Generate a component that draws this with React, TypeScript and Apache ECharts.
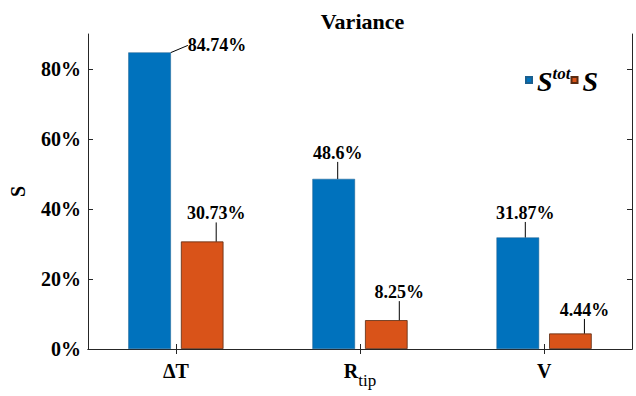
import React, { useEffect, useRef } from "react";
import * as echarts from "echarts";

const categories = ["ΔT", "R_tip", "V"];
const categoryPositions = [1, 2, 3];
const totalValues = [84.74, 48.6, 31.87];
const firstOrderValues = [30.73, 8.25, 4.44];
const yTicks = [0, 20, 40, 60, 80];
const seriesNames = ["Stot", "S"];

// label offsets (dx, dy) in pixels relative to default top position
const labelOffsetsTot = [[67.5, 2], [4, -17], [7.5, -15.5]];
const labelOffsetsFirst = [[14, -19], [13, -19], [14, -14.5]];

const FONT = "'Liberation Serif', 'Times New Roman', serif";
const AXIS_COLOR = "#262626";

export default function App() {
  const ref = useRef<HTMLDivElement>(null);
  useEffect(() => {
    if (!ref.current) return;
    const chart = echarts.init(ref.current, null, { renderer: "svg" });
    const xMin = 0.5226;
    const xMax = 3.4774;
    const labelCommon = {
      show: true,
      position: "top",
      distance: 0,
      fontFamily: FONT,
      fontWeight: "bold",
      fontSize: 18,
      lineHeight: 18,
      color: "#000",
      formatter: (p: any) => `${p.value[1]}%`,
    };
    const option: any = {
      animation: false,
      backgroundColor: "#fff",
      title: {
        text: "Variance",
        left: 357.5,
        textAlign: "center",
        top: 5,
        textStyle: { fontFamily: FONT, fontWeight: "bold", fontSize: 22, color: "#000" },
      },
      legend: {
        left: 520,
        top: 60,
        itemWidth: 6,
        itemHeight: 6,
        itemGap: 0,
        icon: "rect",
        data: seriesNames,
        formatter: (name: string) => (name === "Stot" ? "{s|S}{sup|tot}" : "{s|S}"),
        textStyle: {
          rich: {
            s: { fontFamily: FONT, fontStyle: "italic", fontWeight: "bold", fontSize: 28, color: "#000", lineHeight: 30, verticalAlign: "bottom" },
            sup: { fontFamily: FONT, fontStyle: "italic", fontWeight: "bold", fontSize: 17, color: "#000", lineHeight: 30, verticalAlign: "top", padding: [0, 0, 12, 0] },
          },
        },
      },
      grid: { left: 83, right: 4, top: 34, bottom: 47, containLabel: false },
      xAxis: [
        {
          type: "value",
          min: xMin,
          max: xMax,
          position: "bottom",
          splitLine: { show: false },
          axisLine: { show: true, lineStyle: { color: AXIS_COLOR, width: 1 } },
          axisTick: { show: true, inside: true, length: 5, customValues: categoryPositions, lineStyle: { color: AXIS_COLOR } },
          axisLabel: {
            show: true,
            customValues: categoryPositions,
            margin: 12,
            formatter: (v: number) => {
              const c = categories[Math.round(v) - 1];
              if (c === "R_tip") return "{b|R}{sub|tip}";
              return `{b|${c}}`;
            },
            rich: {
              b: { fontFamily: FONT, fontWeight: "bold", fontSize: 20, color: "#000", lineHeight: 22, verticalAlign: "top" },
              sub: { fontFamily: FONT, fontWeight: "normal", fontSize: 17, color: "#000", lineHeight: 18, verticalAlign: "top", padding: [11, 0, 0, 0] },
            },
          },
        },
        {
          type: "value",
          min: xMin,
          max: xMax,
          position: "top",
          splitLine: { show: false },
          axisLine: { show: true, lineStyle: { color: AXIS_COLOR, width: 1 } },
          axisTick: { show: true, inside: true, length: 5, customValues: categoryPositions, lineStyle: { color: AXIS_COLOR } },
          axisLabel: { show: false },
        },
      ],
      yAxis: [
        {
          type: "value",
          min: 0,
          max: 90,
          position: "left",
          name: "S",
          nameLocation: "middle",
          nameGap: 60,
          nameTextStyle: { fontFamily: FONT, fontWeight: "bold", fontSize: 20, color: "#000" },
          splitLine: { show: false },
          axisLine: { show: true, lineStyle: { color: AXIS_COLOR, width: 1 } },
          axisTick: { show: true, inside: true, length: 5, customValues: yTicks, lineStyle: { color: AXIS_COLOR } },
          axisLabel: {
            customValues: yTicks,
            margin: 7,
            formatter: "{value}%",
            fontFamily: FONT,
            fontWeight: "bold",
            fontSize: 20,
            color: "#000",
          },
        },
        {
          type: "value",
          min: 0,
          max: 90,
          position: "right",
          splitLine: { show: false },
          axisLine: { show: true, lineStyle: { color: AXIS_COLOR, width: 1 } },
          axisTick: { show: true, inside: true, length: 5, customValues: yTicks, lineStyle: { color: AXIS_COLOR } },
          axisLabel: { show: false },
        },
      ],
      series: [
        {
          name: seriesNames[0],
          type: "bar",
          xAxisIndex: 0,
          yAxisIndex: 0,
          barWidth: 42.6,
          barGap: "23.5%",
          data: categoryPositions.map((x, i) => [x, totalValues[i]]),
          itemStyle: { color: "#0072BD", borderColor: "#1a5f8f", borderWidth: 0.5 },
          label: labelCommon,
          labelLine: { show: true, lineStyle: { color: "#000", width: 1 } },
          labelLayout: (p: any) => ({ dx: labelOffsetsTot[p.dataIndex][0], dy: labelOffsetsTot[p.dataIndex][1] }),
        },
        {
          name: seriesNames[1],
          type: "bar",
          xAxisIndex: 0,
          yAxisIndex: 0,
          barWidth: 42.6,
          barGap: "23.5%",
          data: categoryPositions.map((x, i) => [x, firstOrderValues[i]]),
          itemStyle: { color: "#D95319", borderColor: "#5a2a10", borderWidth: 0.8 },
          label: labelCommon,
          labelLine: { show: true, lineStyle: { color: "#000", width: 1 } },
          labelLayout: (p: any) => ({ dx: labelOffsetsFirst[p.dataIndex][0], dy: labelOffsetsFirst[p.dataIndex][1] }),
        },
      ],
    };
    chart.setOption(option);
    return () => chart.dispose();
  }, []);
  return <div ref={ref} style={{ width: 636, height: 396, position: "absolute", left: 0, top: 0 }} />;
}
